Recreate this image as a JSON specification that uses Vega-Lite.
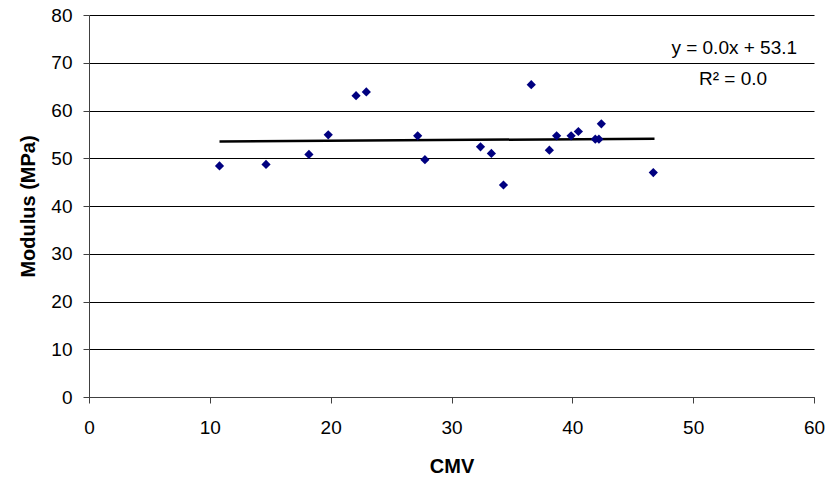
{
  "$schema": "https://vega.github.io/schema/vega-lite/v6.json",
  "width": 725,
  "height": 382,
  "autosize": {"type": "none"},
  "padding": {"left": 89, "top": 15, "right": 23, "bottom": 82},
  "background": "white",
  "config": {
    "view": {"stroke": null},
    "font": "Liberation Sans",
    "axis": {
      "labelFont": "Liberation Sans",
      "titleFont": "Liberation Sans",
      "labelFontSize": 19,
      "titleFontSize": 20,
      "titleFontWeight": "bold",
      "labelColor": "#000",
      "titleColor": "#000",
      "gridColor": "#000",
      "gridOpacity": 1,
      "gridWidth": 1,
      "domainColor": "#404040",
      "tickColor": "#404040",
      "tickSize": 6,
      "labelFlush": false,
      "labelOverlap": false
    }
  },
  "datasets": {
    "points": [
      {"CMV": 10.8, "Modulus": 48.4},
      {"CMV": 14.65, "Modulus": 48.7},
      {"CMV": 18.2, "Modulus": 50.8},
      {"CMV": 19.8, "Modulus": 54.9},
      {"CMV": 22.1, "Modulus": 63.1},
      {"CMV": 22.95, "Modulus": 63.9},
      {"CMV": 27.2, "Modulus": 54.7},
      {"CMV": 27.8, "Modulus": 49.7},
      {"CMV": 32.4, "Modulus": 52.4},
      {"CMV": 33.3, "Modulus": 51.0},
      {"CMV": 34.3, "Modulus": 44.4},
      {"CMV": 36.6, "Modulus": 65.4},
      {"CMV": 38.1, "Modulus": 51.7},
      {"CMV": 38.7, "Modulus": 54.7},
      {"CMV": 39.9, "Modulus": 54.7},
      {"CMV": 40.5, "Modulus": 55.6},
      {"CMV": 41.9, "Modulus": 54.0},
      {"CMV": 42.2, "Modulus": 54.0},
      {"CMV": 42.4, "Modulus": 57.2},
      {"CMV": 46.7, "Modulus": 47.0}
    ],
    "trend": [
      {"CMV": 10.8, "Modulus": 53.5},
      {"CMV": 46.8, "Modulus": 54.1}
    ],
    "labels": [
      {"CMV": 58.6, "Modulus": 73.1, "text": "y = 0.0x + 53.1", "align": "right"},
      {"CMV": 53.3, "Modulus": 66.6, "text": "R² = 0.0", "align": "center"}
    ]
  },
  "encoding": {
    "x": {
      "field": "CMV",
      "type": "quantitative",
      "scale": {"domain": [0, 60], "nice": false, "zero": false},
      "axis": {
        "title": "CMV",
        "values": [0, 10, 20, 30, 40, 50, 60],
        "grid": false,
        "labelPadding": 15,
        "titlePadding": 19
      }
    },
    "y": {
      "field": "Modulus",
      "type": "quantitative",
      "scale": {"domain": [0, 80], "nice": false, "zero": false},
      "axis": {
        "title": "Modulus (MPa)",
        "values": [0, 10, 20, 30, 40, 50, 60, 70, 80],
        "grid": true,
        "labelPadding": 11,
        "titlePadding": 12
      }
    }
  },
  "layer": [
    {
      "data": {"name": "trend"},
      "mark": {"type": "line", "color": "#000", "strokeWidth": 2.5},
      "encoding": {}
    },
    {
      "data": {"name": "points"},
      "mark": {"type": "point", "shape": "diamond", "filled": true, "color": "#000080", "opacity": 1, "size": 85},
      "encoding": {}
    },
    {
      "data": {"name": "labels"},
      "transform": [{"filter": "datum.align === 'right'"}],
      "mark": {"type": "text", "align": "right", "baseline": "middle", "fontSize": 19, "font": "Liberation Sans", "color": "#000"},
      "encoding": {"text": {"field": "text"}}
    },
    {
      "data": {"name": "labels"},
      "transform": [{"filter": "datum.align === 'center'"}],
      "mark": {"type": "text", "align": "center", "baseline": "middle", "fontSize": 19, "font": "Liberation Sans", "color": "#000"},
      "encoding": {"text": {"field": "text"}}
    }
  ]
}
